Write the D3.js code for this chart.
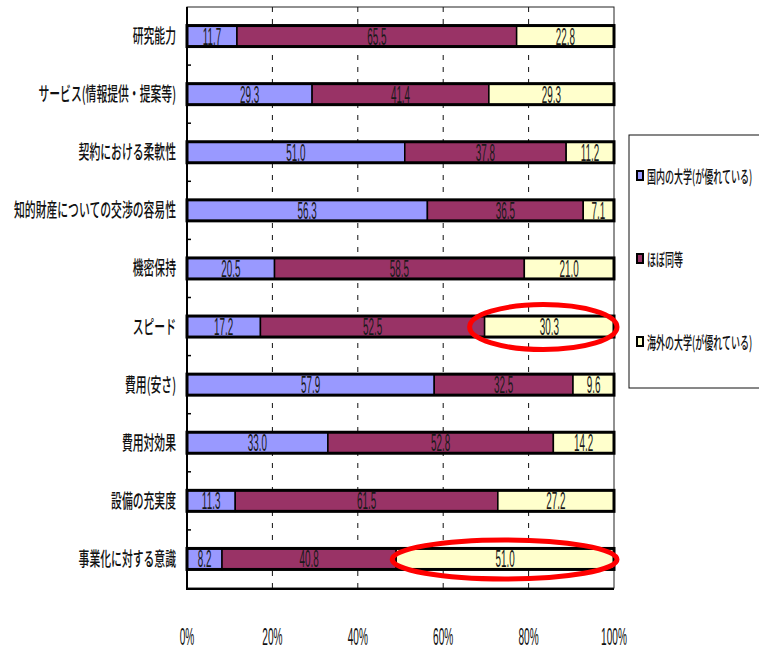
<!DOCTYPE html>
<html>
<head>
<meta charset="utf-8">
<script src="https://cdn.jsdelivr.net/npm/d3@7/dist/d3.min.js"></script>
<style>
  html, body { margin: 0; padding: 0; background: #fff; }
  svg { display: block; }
  .jp { font-family: "Noto Sans CJK JP", "Noto Sans", sans-serif; }
  .num { font-family: "Liberation Sans", Arial, sans-serif; }
</style>
</head>
<body>
<script>
// Survey items (top to bottom)
const categories = [
  "研究能力",
  "サービス(情報提供・提案等)",
  "契約における柔軟性",
  "知的財産についての交渉の容易性",
  "機密保持",
  "スピード",
  "費用(安さ)",
  "費用対効果",
  "設備の充実度",
  "事業化に対する意識"
];

// Percentages per answer
const domestic = [11.7, 29.3, 51.0, 56.3, 20.5, 17.2, 57.9, 33.0, 11.3, 8.2];
const equal    = [65.5, 41.4, 37.8, 36.5, 58.5, 52.5, 32.5, 52.8, 61.5, 40.8];
const overseas = [22.8, 29.3, 11.2, 7.1, 21.0, 30.3, 9.6, 14.2, 27.2, 51.0];

const seriesNames = ["国内の大学(が優れている)", "ほぼ同等", "海外の大学(が優れている)"];
const seriesColors = ["#9999FF", "#993366", "#FFFFCC"];
const tickValues = [0, 20, 40, 60, 80, 100];
const tickLabels = ["0%", "20%", "40%", "60%", "80%", "100%"];

// Items whose overseas segment is circled
const highlighted = ["スピード", "事業化に対する意識"];

const W = 759, H = 650;
const svg = d3.select("body").append("svg").attr("width", W).attr("height", H);

const x = d3.scaleLinear().domain([0, 100]).range([187, 614]);
const y = d3.scaleBand().domain(categories).range([7, 588]).padding(0);
const barH = 21;

const rows = categories.map((c, i) => {
  const vals = [domestic[i], equal[i], overseas[i]];
  let acc = 0;
  const segs = vals.map((v, k) => {
    const s = { cat: c, k, v, x0: acc, x1: acc + v };
    acc += v;
    return s;
  });
  return { cat: c, segs };
});

// helper for horizontally condensed text
function condensedText(sel, opts) {
  const g = sel.append("g").attr("transform", `translate(${opts.x},${opts.y})`);
  return g.append("text")
    .attr("class", opts.cls)
    .attr("transform", `scale(${opts.sx},1)`)
    .attr("text-anchor", opts.anchor || "middle")
    .attr("font-size", opts.size)
    .attr("font-weight", opts.weight || 400)
    .attr("fill", opts.fill || "#111")
    .text(opts.text);
}

// plot frame
svg.append("rect")
  .attr("x", x(0)).attr("y", y.range()[0])
  .attr("width", x(100) - x(0)).attr("height", y.range()[1] - y.range()[0])
  .attr("fill", "#fff").attr("stroke", "#222").attr("stroke-width", 1);

// dashed gridlines
svg.append("g").selectAll("line")
  .data(tickValues.filter(v => v > 0 && v < 100))
  .join("line")
  .attr("x1", d => x(d)).attr("x2", d => x(d))
  .attr("y1", y.range()[0]).attr("y2", y.range()[1])
  .attr("stroke", "#111").attr("stroke-width", 1)
  .attr("stroke-dasharray", "5,7");

// stacked bars
const barG = svg.append("g");
rows.forEach(r => {
  const cy = y(r.cat) + y.bandwidth() / 2;
  barG.append("g").selectAll("rect")
    .data(r.segs)
    .join("rect")
    .attr("x", d => x(d.x0)).attr("width", d => x(d.x1) - x(d.x0))
    .attr("y", cy - barH / 2).attr("height", barH)
    .attr("fill", d => seriesColors[d.k])
    .attr("stroke", "#000").attr("stroke-width", 1.5);
  barG.append("rect")
    .attr("x", x(0)).attr("width", x(100) - x(0))
    .attr("y", cy - barH / 2).attr("height", barH)
    .attr("fill", "none").attr("stroke", "#000").attr("stroke-width", 3);
  r.segs.forEach(s => {
    condensedText(barG, {
      x: x((s.x0 + s.x1) / 2), y: cy + 8.5, sx: 0.43, size: 23,
      cls: "num", text: s.v.toFixed(1), fill: "#1a1a1a"
    });
  });
});

// left axis with inward ticks at band boundaries
svg.append("line")
  .attr("x1", x(0)).attr("x2", x(0))
  .attr("y1", y.range()[0]).attr("y2", y.range()[1] + 1)
  .attr("stroke", "#000").attr("stroke-width", 2);
svg.append("g").selectAll("line")
  .data(categories.slice(1))
  .join("line")
  .attr("x1", x(0)).attr("x2", x(0) + 4)
  .attr("y1", d => y(d)).attr("y2", d => y(d))
  .attr("stroke", "#000").attr("stroke-width", 1.5);
// bottom axis line
svg.append("line")
  .attr("x1", x(0) - 1).attr("x2", x(100))
  .attr("y1", y.range()[1] + 1).attr("y2", y.range()[1] + 1)
  .attr("stroke", "#000").attr("stroke-width", 2);

// category labels
const catG = svg.append("g");
categories.forEach(c => {
  condensedText(catG, {
    x: 176, y: y(c) + y.bandwidth() / 2 + 7, sx: 0.57, size: 19,
    cls: "jp", anchor: "end", text: c, fill: "#111", weight: 500
  });
});

// percent tick labels
const tickG = svg.append("g");
tickValues.forEach((v, i) => {
  condensedText(tickG, {
    x: x(v), y: 645, sx: 0.42, size: 24,
    cls: "num", text: tickLabels[i], fill: "#111"
  });
});

// red ellipses around the overseas segment of highlighted items
const ellipseLeftPad = { "スピード": 15, "事業化に対する意識": 4 };
const ellG = svg.append("g");
highlighted.forEach(c => {
  const r = rows.find(rr => rr.cat === c);
  const s = r.segs[2];
  const cy = y(c) + y.bandwidth() / 2;
  const left = x(s.x0) - ellipseLeftPad[c];
  const right = x(s.x1) + 3;
  const rx = (right - left) / 2;
  ellG.append("ellipse")
    .attr("cx", left + rx).attr("cy", cy + 0.5)
    .attr("rx", rx).attr("ry", s.v > 40 ? 19.5 : 22.5)
    .attr("fill", "none").attr("stroke", "#FF0000").attr("stroke-width", 5);
});

// legend
const lg = svg.append("g");
lg.append("rect")
  .attr("x", 629).attr("y", 135).attr("width", 140).attr("height", 253)
  .attr("fill", "#fff").attr("stroke", "#111").attr("stroke-width", 1);
const legendY = [176, 259, 342];
seriesNames.forEach((n, i) => {
  lg.append("rect")
    .attr("x", 637).attr("y", legendY[i] - 5).attr("width", 6).attr("height", 9)
    .attr("fill", seriesColors[i]).attr("stroke", "#000").attr("stroke-width", 2);
  condensedText(lg, {
    x: 647, y: legendY[i] + 6.5, sx: 0.53, size: 17,
    cls: "jp", anchor: "start", text: n, fill: "#111", weight: 500
  });
});
</script>
</body>
</html>
